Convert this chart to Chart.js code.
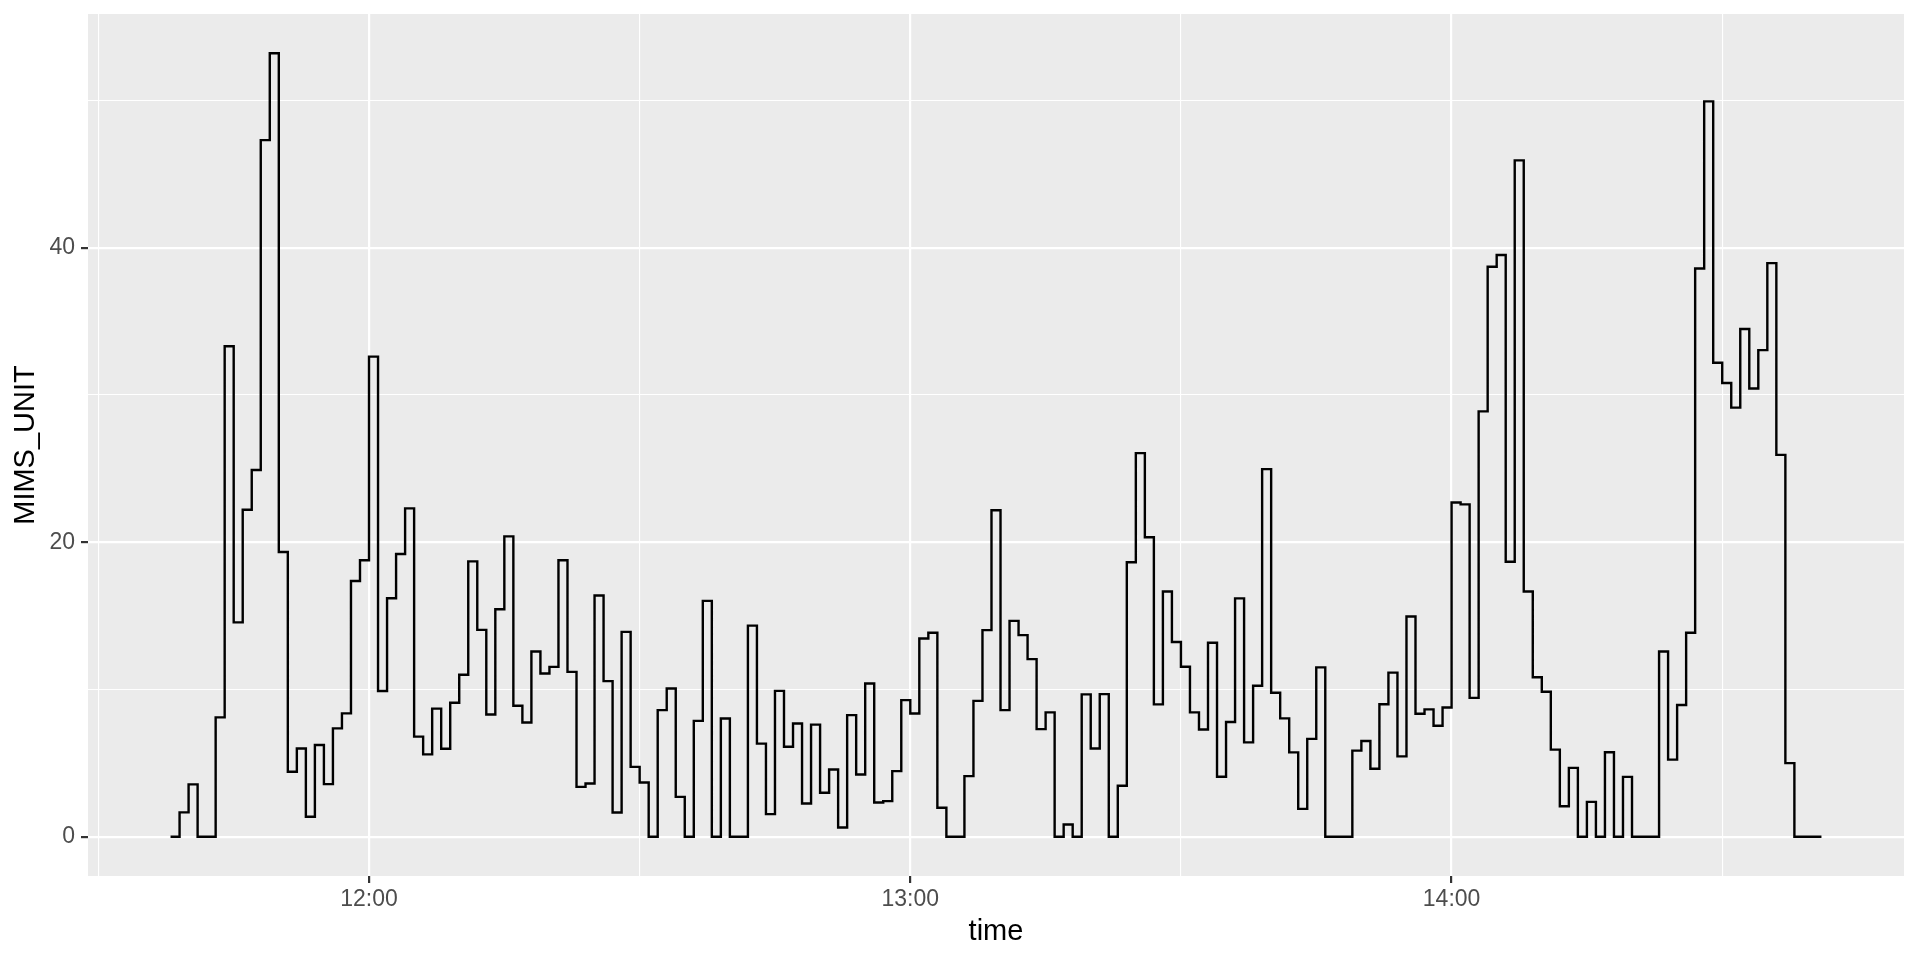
<!DOCTYPE html>
<html><head><meta charset="utf-8">
<script src="https://cdn.jsdelivr.net/npm/chart.js@4"></script>
<style>html,body{margin:0;padding:0;background:#fff}#wrap{width:1920px;height:960px;position:relative}</style>
</head><body><div id="wrap"><canvas id="c" width="1920" height="960"></canvas></div>
<script>
const times = [
'11:38','11:39','11:40','11:41','11:42','11:43','11:44','11:45','11:46','11:47','11:48','11:49','11:50','11:51','11:52','11:53','11:54','11:55','11:56','11:57','11:58','11:59',
'12:00','12:01','12:02','12:03','12:04','12:05','12:06','12:07','12:08','12:09','12:10','12:11','12:12','12:13','12:14','12:15','12:16','12:17','12:18','12:19',
'12:20','12:21','12:22','12:23','12:24','12:25','12:26','12:27','12:28','12:29','12:30','12:31','12:32','12:33','12:34','12:35','12:36','12:37','12:38','12:39',
'12:40','12:41','12:42','12:43','12:44','12:45','12:46','12:47','12:48','12:49','12:50','12:51','12:52','12:53','12:54','12:55','12:56','12:57','12:58','12:59',
'13:00','13:01','13:02','13:03','13:04','13:05','13:06','13:07','13:08','13:09','13:10','13:11','13:12','13:13','13:14','13:15','13:16','13:17','13:18','13:19',
'13:20','13:21','13:22','13:23','13:24','13:25','13:26','13:27','13:28','13:29','13:30','13:31','13:32','13:33','13:34','13:35','13:36','13:37','13:38','13:39',
'13:40','13:41','13:42','13:43','13:44','13:45','13:46','13:47','13:48','13:49','13:50','13:51','13:52','13:53','13:54','13:55','13:56','13:57','13:58','13:59',
'14:00','14:01','14:02','14:03','14:04','14:05','14:06','14:07','14:08','14:09','14:10','14:11','14:12','14:13','14:14','14:15','14:16','14:17','14:18','14:19',
'14:20','14:21','14:22','14:23','14:24','14:25','14:26','14:27','14:28','14:29','14:30','14:31','14:32','14:33','14:34','14:35','14:36','14:37','14:38','14:39',
'14:40','14:41'
];
const mims = [
0,1.66,3.56,0,0,8.11,33.3,14.56,22.2,24.9,47.3,53.2,19.34,4.42,6.0,1.36,6.23,3.58,7.36,8.38,17.37,18.78,
32.6,9.9,16.2,19.2,22.3,6.8,5.6,8.7,5.98,9.1,11.0,18.7,14.05,8.3,15.45,20.4,8.9,7.76,12.58,11.09,
11.54,18.78,11.2,3.39,3.62,16.38,10.57,1.65,13.91,4.75,3.69,0,8.6,10.07,2.71,0,7.87,16.02,0,8.03,
0,0,14.34,6.33,1.54,9.91,6.11,7.69,2.26,7.62,2.99,4.57,0.63,8.26,4.23,10.41,2.33,2.42,4.46,9.28,
8.37,13.46,13.85,1.97,0,0,4.12,9.23,14.03,22.17,8.6,14.66,13.69,12.06,7.31,8.45,0,0.84,0,9.67,
6.0,9.69,0,3.47,18.64,26.05,20.34,8.99,16.65,13.23,11.55,8.45,7.29,13.18,4.08,7.79,16.19,6.41,10.26,24.96,
9.78,8.04,5.73,1.9,6.65,11.5,0,0,0,5.85,6.5,4.62,9.0,11.15,5.46,14.96,8.36,8.65,7.54,8.78,
22.7,22.57,9.43,28.88,38.7,39.5,18.67,45.92,16.65,10.83,9.85,5.92,2.08,4.68,0,2.37,0,5.74,0,4.07,
0,0,0,12.58,5.24,8.95,13.85,38.58,49.93,32.18,30.81,29.14,34.48,30.44,33.04,38.95,25.93,5.0,0,0,
0,0
];
const xMajorLabels = ['12:00','13:00','14:00'];
const xMinorTimes = ['11:30','12:30','13:30','14:30'];
const yMajorTicks = [0,20,40];
const yMinorTicks = [10,30,50];
const xTitle = 'time';
const yTitle = 'MIMS_UNIT';

const toMin = s => { const [h,m] = s.split(':').map(Number); return h*60+m; };
const fmt = v => { const h = Math.floor(v/60), m = Math.round(v%60); return String(h).padStart(2,'0')+':'+String(m).padStart(2,'0'); };
const pts = times.map((t,i)=>({x: toMin(t), y: mims[i]}));
const xs = pts.map(p=>p.x), ys = pts.map(p=>p.y);
const xLo = Math.min(...xs), xHi = Math.max(...xs), yLo = Math.min(...ys), yHi = Math.max(...ys);
const xPad = (xHi-xLo)*0.05, yPad = (yHi-yLo)*0.05;
const xMajor = xMajorLabels.map(toMin), xMinor = xMinorTimes.map(toMin);
const xTicks = [...xMajor, ...xMinor].sort((a,b)=>a-b);
const yTicks = [...yMajorTicks, ...yMinorTicks].sort((a,b)=>a-b);

const bgPlugin = {
  id: 'bg',
  beforeDraw(chart){
    const {ctx, chartArea:a} = chart;
    ctx.save();
    ctx.fillStyle = '#ffffff';
    ctx.fillRect(0,0,chart.width,chart.height);
    ctx.fillStyle = '#EBEBEB';
    ctx.fillRect(a.left, a.top, a.right-a.left, a.bottom-a.top);
    ctx.restore();
  }
};

const tickFont = {family: '"Liberation Sans", Arial, sans-serif', size: 23};
const titleFont = {family: '"Liberation Sans", Arial, sans-serif', size: 29};

new Chart(document.getElementById('c'), {
  type: 'line',
  data: { datasets: [{
    data: pts, stepped: true, borderColor: '#000000', borderWidth: 2.4,
    pointRadius: 0, fill: false, tension: 0
  }]},
  options: {
    responsive: false, devicePixelRatio: 1, animation: false,
    layout: { padding: { top: 14, right: 16, left: 0, bottom: 0 } },
    plugins: { legend: {display:false}, tooltip: {enabled:false} },
    scales: {
      x: {
        type: 'linear', min: xLo - xPad, max: xHi + xPad,
        afterBuildTicks: s => { s.ticks = xTicks.map(v=>({value:v})); },
        afterFit: s => { s.height = 84; s.paddingLeft = 0; s.paddingRight = 0; },
        border: { display: false },
        grid: {
          color: '#FFFFFF',
          lineWidth: c => xMajor.includes(c.tick.value) ? 2.2 : 1.1,
          tickColor: c => xMajor.includes(c.tick.value) ? '#333333' : 'rgba(0,0,0,0)',
          tickWidth: 2.2, tickLength: 7, drawTicks: true
        },
        ticks: {
          autoSkip: false, maxRotation: 0, color: '#4D4D4D', font: tickFont, padding: 3,
          callback: v => xMajor.includes(v) ? fmt(v) : ''
        },
        title: { display: true, text: xTitle, color: '#000000', font: titleFont, padding: {top: 0, bottom: 10.5} }
      },
      y: {
        type: 'linear', min: yLo - yPad, max: yHi + yPad,
        afterBuildTicks: s => { s.ticks = yTicks.map(v=>({value:v})); },
        afterFit: s => { s.width = 88; s.paddingTop = 0; s.paddingBottom = 0; },
        border: { display: false },
        grid: {
          color: '#FFFFFF',
          lineWidth: c => yMajorTicks.includes(c.tick.value) ? 2.2 : 1.1,
          tickColor: c => yMajorTicks.includes(c.tick.value) ? '#333333' : 'rgba(0,0,0,0)',
          tickWidth: 2.2, tickLength: 7, drawTicks: true
        },
        ticks: {
          autoSkip: false, color: '#4D4D4D', font: tickFont, padding: 6,
          callback: v => yMajorTicks.includes(v) ? String(v) : ''
        },
        title: { display: true, text: yTitle, color: '#000000', font: titleFont, padding: {top: 9, bottom: 0} }
      }
    }
  },
  plugins: [bgPlugin]
});
</script></body></html>
